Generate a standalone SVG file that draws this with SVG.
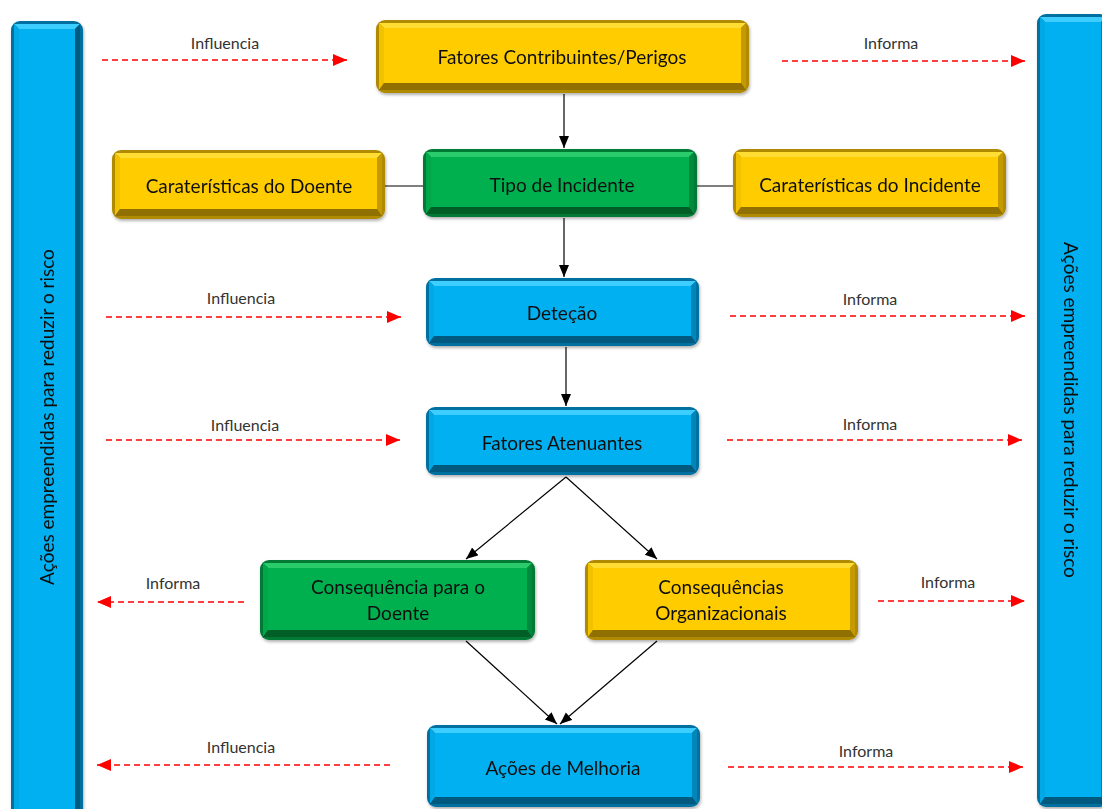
<svg xmlns="http://www.w3.org/2000/svg" width="1102" height="809" viewBox="0 0 1102 809">
<style>
text{font-family:Lato,"Liberation Sans",sans-serif;}
.lbl{font-size:19px;fill:#111;text-anchor:middle;}
.sm{font-size:16px;fill:#333;text-anchor:middle;}
.bar{font-size:19px;fill:#111;text-anchor:middle;}
.yb{fill:#B08A00}.yt{fill:#FFDD33}.yl{fill:#F2C200}.yr{fill:#C49A00}.yo{fill:#8F7000}.yf{fill:#FFCC00}
.gb{fill:#007A36}.gt{fill:#2ACB6A}.gl{fill:#00A84A}.gr{fill:#008A3C}.go{fill:#005F28}.gf{fill:#00B050}
.bb{fill:#0070A0}.bt{fill:#3CCDFF}.bl{fill:#00A8E6}.br{fill:#0086B8}.bo{fill:#005A80}.bf{fill:#00B0F0}
.con line{stroke:#000;stroke-width:1.2;fill:none}
.red line{stroke:#FF0000;stroke-width:1.5;stroke-dasharray:6 4;fill:none}
</style>
<defs>
<marker id="ab" markerUnits="userSpaceOnUse" markerWidth="13" markerHeight="11" refX="12" refY="5" orient="auto"><path d="M0,0 L12,5 L0,10 z" fill="#000"/></marker>
<marker id="ar" markerUnits="userSpaceOnUse" markerWidth="15" markerHeight="13" refX="14" refY="6" orient="auto"><path d="M0,0 L14,6 L0,12 z" fill="#FF0000"/></marker>
<filter id="sh" x="-5%" y="-10%" width="110%" height="130%"><feDropShadow dx="1" dy="2" stdDeviation="1.5" flood-color="#000" flood-opacity="0.3"/></filter>
</defs>

<g id="bar-left" filter="url(#sh)">
<rect class="bb" x="11" y="21" width="72" height="800" rx="9"/>
<polygon class="bt" points="14,24 80,24 75,29 19,29"/>
<polygon class="bl" points="14,24 19,29 19,811 14,818"/>
<polygon class="bo" points="80,24 80,818 75,811 75,29"/>
<rect class="bf" x="19" y="29" width="56" height="782"/>
<text class="bar" transform="translate(54,417) rotate(-90)">Ações empreendidas  para reduzir o risco</text>
</g>

<g id="bar-right" filter="url(#sh)">
<rect class="bb" x="1037" y="14" width="72" height="793" rx="9"/>
<polygon class="bt" points="1040,17 1106,17 1101,22 1045,22"/>
<polygon class="bl" points="1040,17 1045,22 1045,797 1040,804"/>
<polygon class="br" points="1106,17 1106,804 1101,797 1101,22"/>
<polygon class="bo" points="1040,804 1045,797 1101,797 1106,804"/>
<rect class="bf" x="1045" y="22" width="56" height="775"/>
<text class="bar" transform="translate(1064,410) rotate(90)">Ações empreendidas  para reduzir o risco</text>
</g>

<g id="fatores-contribuintes" filter="url(#sh)">
<rect class="yb" x="376" y="20" width="373" height="73" rx="9"/>
<polygon class="yt" points="379,23 746,23 741,28 384,28"/>
<polygon class="yl" points="379,23 384,28 384,83 379,90"/>
<polygon class="yr" points="746,23 746,90 741,83 741,28"/>
<polygon class="yo" points="379,90 384,83 741,83 746,90"/>
<rect class="yf" x="384" y="28" width="357" height="55"/>
<text class="lbl" x="562" y="64">Fatores Contribuintes/Perigos</text>
</g>

<g id="carat-doente" filter="url(#sh)">
<rect class="yb" x="112" y="150" width="273" height="69" rx="9"/>
<polygon class="yt" points="115,153 382,153 377,158 120,158"/>
<polygon class="yl" points="115,153 120,158 120,209 115,216"/>
<polygon class="yr" points="382,153 382,216 377,209 377,158"/>
<polygon class="yo" points="115,216 120,209 377,209 382,216"/>
<rect class="yf" x="120" y="158" width="257" height="51"/>
<text class="lbl" x="249" y="193">Caraterísticas do Doente</text>
</g>

<g id="tipo-incidente" filter="url(#sh)">
<rect class="gb" x="423" y="149" width="274" height="68" rx="9"/>
<polygon class="gt" points="426,152 694,152 689,157 431,157"/>
<polygon class="gl" points="426,152 431,157 431,207 426,214"/>
<polygon class="gr" points="694,152 694,214 689,207 689,157"/>
<polygon class="go" points="426,214 431,207 689,207 694,214"/>
<rect class="gf" x="431" y="157" width="258" height="50"/>
<text class="lbl" x="562" y="192">Tipo de Incidente</text>
</g>

<g id="carat-incidente" filter="url(#sh)">
<rect class="yb" x="733" y="149" width="273" height="68" rx="9"/>
<polygon class="yt" points="736,152 1003,152 998,157 741,157"/>
<polygon class="yl" points="736,152 741,157 741,207 736,214"/>
<polygon class="yr" points="1003,152 1003,214 998,207 998,157"/>
<polygon class="yo" points="736,214 741,207 998,207 1003,214"/>
<rect class="yf" x="741" y="157" width="257" height="50"/>
<text class="lbl" x="870" y="192">Caraterísticas do Incidente</text>
</g>

<g id="detecao" filter="url(#sh)">
<rect class="bb" x="426" y="278" width="273" height="68" rx="9"/>
<polygon class="bt" points="429,281 696,281 691,286 434,286"/>
<polygon class="bl" points="429,281 434,286 434,336 429,343"/>
<polygon class="br" points="696,281 696,343 691,336 691,286"/>
<polygon class="bo" points="429,343 434,336 691,336 696,343"/>
<rect class="bf" x="434" y="286" width="257" height="50"/>
<text class="lbl" x="562" y="320">Deteção</text>
</g>

<g id="fatores-atenuantes" filter="url(#sh)">
<rect class="bb" x="426" y="407" width="273" height="68" rx="9"/>
<polygon class="bt" points="429,410 696,410 691,415 434,415"/>
<polygon class="bl" points="429,410 434,415 434,465 429,472"/>
<polygon class="br" points="696,410 696,472 691,465 691,415"/>
<polygon class="bo" points="429,472 434,465 691,465 696,472"/>
<rect class="bf" x="434" y="415" width="257" height="50"/>
<text class="lbl" x="562" y="450">Fatores Atenuantes</text>
</g>

<g id="consequencia-doente" filter="url(#sh)">
<rect class="gb" x="260" y="560" width="275" height="80" rx="9"/>
<polygon class="gt" points="263,563 532,563 527,568 268,568"/>
<polygon class="gl" points="263,563 268,568 268,630 263,637"/>
<polygon class="gr" points="532,563 532,637 527,630 527,568"/>
<polygon class="go" points="263,637 268,630 527,630 532,637"/>
<rect class="gf" x="268" y="568" width="259" height="62"/>
<text class="lbl" x="398" y="594">Consequência  para o</text>
<text class="lbl" x="398" y="620">Doente</text>
</g>

<g id="consequencias-org" filter="url(#sh)">
<rect class="yb" x="585" y="560" width="273" height="80" rx="9"/>
<polygon class="yt" points="588,563 855,563 850,568 593,568"/>
<polygon class="yl" points="588,563 593,568 593,630 588,637"/>
<polygon class="yr" points="855,563 855,637 850,630 850,568"/>
<polygon class="yo" points="588,637 593,630 850,630 855,637"/>
<rect class="yf" x="593" y="568" width="257" height="62"/>
<text class="lbl" x="721" y="594">Consequências</text>
<text class="lbl" x="721" y="620">Organizacionais</text>
</g>

<g id="acoes-melhoria" filter="url(#sh)">
<rect class="bb" x="427" y="725" width="273" height="82" rx="9"/>
<polygon class="bt" points="430,728 697,728 692,733 435,733"/>
<polygon class="bl" points="430,728 435,733 435,797 430,804"/>
<polygon class="br" points="697,728 697,804 692,797 692,733"/>
<polygon class="bo" points="430,804 435,797 692,797 697,804"/>
<rect class="bf" x="435" y="733" width="257" height="64"/>
<text class="lbl" x="563" y="775">Ações de Melhoria</text>
</g>

<g id="connectors" class="con">
<line x1="564" y1="94" x2="564" y2="148" marker-end="url(#ab)"/>
<line x1="385" y1="186" x2="423" y2="186"/>
<line x1="697" y1="186" x2="733" y2="186"/>
<line x1="564" y1="218" x2="564" y2="277" marker-end="url(#ab)"/>
<line x1="566" y1="347" x2="566" y2="406" marker-end="url(#ab)"/>
<line x1="566" y1="477" x2="466" y2="559" marker-end="url(#ab)"/>
<line x1="566" y1="477" x2="657" y2="559" marker-end="url(#ab)"/>
<line x1="466" y1="641" x2="557" y2="724" marker-end="url(#ab)"/>
<line x1="657" y1="641" x2="560" y2="724" marker-end="url(#ab)"/>
</g>

<g id="influence-links" class="red">
<line x1="102" y1="60" x2="347" y2="60" marker-end="url(#ar)"/>
<line x1="782" y1="61" x2="1025" y2="61" marker-end="url(#ar)"/>
<line x1="106" y1="317" x2="401" y2="317" marker-end="url(#ar)"/>
<line x1="730" y1="316" x2="1025" y2="316" marker-end="url(#ar)"/>
<line x1="106" y1="440" x2="400" y2="440" marker-end="url(#ar)"/>
<line x1="727" y1="440" x2="1022" y2="440" marker-end="url(#ar)"/>
<line x1="244" y1="602" x2="97" y2="602" marker-end="url(#ar)"/>
<line x1="878" y1="601" x2="1025" y2="601" marker-end="url(#ar)"/>
<line x1="390" y1="765" x2="97" y2="765" marker-end="url(#ar)"/>
<line x1="728" y1="767" x2="1023" y2="767" marker-end="url(#ar)"/>
</g>

<g id="link-labels">
<text class="sm" x="225" y="49">Influencia</text>
<text class="sm" x="891" y="49">Informa</text>
<text class="sm" x="241" y="304">Influencia</text>
<text class="sm" x="870" y="305">Informa</text>
<text class="sm" x="245" y="431">Influencia</text>
<text class="sm" x="870" y="430">Informa</text>
<text class="sm" x="173" y="589">Informa</text>
<text class="sm" x="948" y="588">Informa</text>
<text class="sm" x="241" y="753">Influencia</text>
<text class="sm" x="866" y="757">Informa</text>
</g>
</svg>
